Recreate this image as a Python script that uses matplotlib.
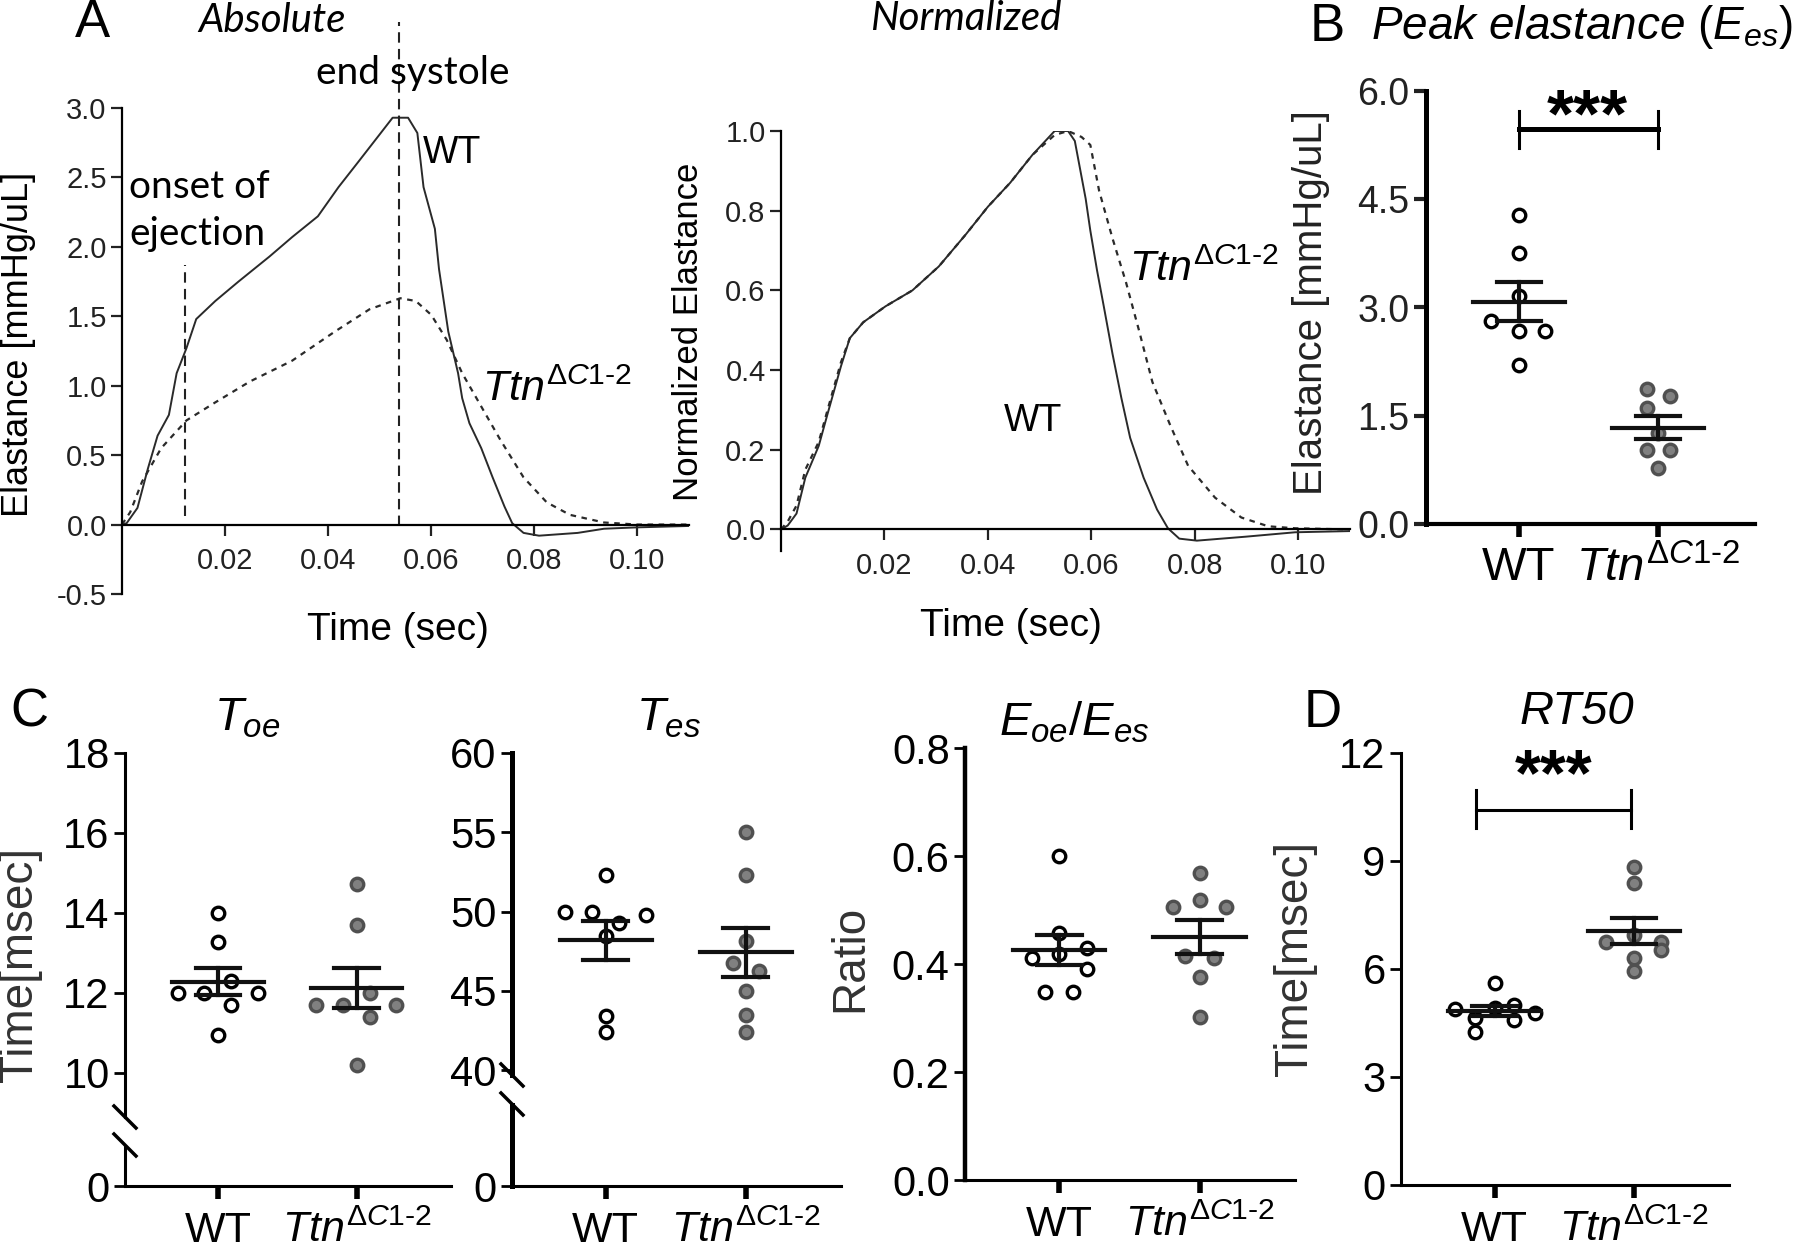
import numpy as np
import matplotlib
matplotlib.use("Agg")
import matplotlib.pyplot as plt
from matplotlib.lines import Line2D

# ============================
# Data
# ============================
# A - absolute elastance traces (time in s, elastance mmHg/uL)
t_wt_abs = [0.0, 0.0009, 0.003, 0.005, 0.0069, 0.0091, 0.0106, 0.0125, 0.0144, 0.0181, 0.0226,
            0.0286, 0.033, 0.038, 0.042, 0.0458, 0.0502, 0.0525, 0.0555, 0.0573, 0.0585, 0.0607,
            0.0615, 0.0633, 0.0652, 0.066, 0.0674, 0.0697, 0.0719, 0.0742, 0.0757, 0.0779, 0.0809,
            0.0884, 0.0935, 0.100, 0.110]
e_wt_abs = [0.0, 0.01, 0.12, 0.40, 0.64, 0.79, 1.09, 1.27, 1.48, 1.61, 1.75,
            1.93, 2.07, 2.22, 2.43, 2.61, 2.82, 2.93, 2.93, 2.82, 2.43, 2.13,
            1.84, 1.39, 1.09, 0.91, 0.73, 0.55, 0.34, 0.13, 0.01, -0.06, -0.08,
            -0.06, -0.03, -0.02, -0.01]
t_ko_abs = [0.0, 0.0016, 0.0039, 0.0076, 0.0125, 0.0181, 0.0248, 0.033, 0.0413, 0.048, 0.054,
            0.057, 0.060, 0.063, 0.066, 0.0697, 0.0734, 0.0779, 0.0824, 0.0869, 0.0935, 0.100, 0.110]
e_ko_abs = [0.0, 0.09, 0.31, 0.55, 0.75, 0.88, 1.03, 1.18, 1.39, 1.55, 1.63,
            1.61, 1.51, 1.33, 1.09, 0.85, 0.61, 0.34, 0.16, 0.07, 0.015, 0.0, 0.0]
t_onset = 0.0123
t_es = 0.0538

# A - normalized elastance traces
t_wt_norm = [0.0, 0.0013, 0.003, 0.0047, 0.0073, 0.009, 0.0116, 0.0133, 0.0159, 0.0202, 0.0254,
             0.0305, 0.0357, 0.040, 0.0443, 0.0486, 0.0529, 0.0555, 0.0568, 0.0589, 0.0598, 0.0611,
             0.0624, 0.0641, 0.0658, 0.0675, 0.0701, 0.0727, 0.0748, 0.077, 0.0804, 0.0899, 0.0994, 0.110]
e_wt_norm = [0.0, 0.01, 0.04, 0.13, 0.21, 0.29, 0.41, 0.48, 0.52, 0.56, 0.60,
             0.66, 0.74, 0.81, 0.87, 0.94, 1.0, 1.0, 0.975, 0.83, 0.75, 0.65,
             0.56, 0.44, 0.33, 0.23, 0.13, 0.05, 0.003, -0.023, -0.028, -0.018, -0.007, -0.004]
t_ko_norm = [0.0, 0.0013, 0.003, 0.0047, 0.0073, 0.009, 0.0116, 0.0133, 0.0159, 0.0202, 0.0254,
             0.0305, 0.0357, 0.040, 0.0443, 0.0486, 0.0529, 0.0555, 0.0581, 0.0598, 0.0615, 0.0641,
             0.0667, 0.0692, 0.0718, 0.0753, 0.0787, 0.0839, 0.089, 0.0942, 0.0994, 0.110]
e_ko_norm = [0.0, 0.02, 0.06, 0.15, 0.22, 0.30, 0.42, 0.48, 0.52, 0.56, 0.60,
             0.66, 0.74, 0.81, 0.87, 0.94, 0.99, 1.0, 0.985, 0.965, 0.85, 0.73,
             0.62, 0.50, 0.37, 0.26, 0.16, 0.08, 0.03, 0.008, 0.003, 0.0]

# B - peak elastance
ees_wt = [4.28, 3.76, 3.16, 2.81, 2.67, 2.67, 2.21]
ees_ko = [1.87, 1.78, 1.61, 1.26, 1.03, 1.03, 0.77]
# C
toe_wt = [14.0, 13.28, 12.0, 12.0, 12.3, 12.0, 11.69, 10.96]
toe_ko = [14.72, 13.7, 11.69, 11.69, 12.0, 11.69, 11.39, 10.19]
tes_wt = [52.3, 50.0, 50.0, 49.3, 49.77, 48.45, 43.4, 42.4]
tes_ko = [55.0, 52.3, 48.16, 46.76, 46.28, 45.0, 43.5, 42.4]
ratio_wt = [0.60, 0.458, 0.412, 0.43, 0.419, 0.39, 0.348, 0.348]
ratio_ko = [0.569, 0.519, 0.506, 0.506, 0.415, 0.412, 0.376, 0.301]
# D
rt50_wt = [5.61, 5.0, 4.92, 4.89, 4.78, 4.64, 4.58, 4.25]
rt50_ko = [8.82, 8.40, 6.95, 6.74, 6.74, 6.52, 6.31, 5.94]

# horizontal scatter of the dots (layout only)
jit_b_wt = [0, 0, 0, -0.2, 0, 0.19, 0]
jit_b_ko = [-0.08, 0.09, -0.08, 0, -0.08, 0.09, 0]
jit_toe_wt = [0, 0, -0.29, -0.1, 0.095, 0.29, 0.095, 0]
jit_toe_ko = [0, 0, -0.29, -0.1, 0.095, 0.28, 0.095, 0]
jit_tes_wt = [0, -0.29, -0.1, 0.095, 0.29, 0, 0, 0]
jit_tes_ko = [0, 0, 0, -0.09, 0.095, 0, 0, 0]
jit_r_wt = [0, 0, -0.19, 0.2, 0, 0.2, -0.1, 0.1]
jit_r_ko = [0, 0, -0.19, 0.19, -0.1, 0.1, 0, 0]
jit_d_wt = [0, 0.14, 0, -0.28, 0.29, -0.14, 0.14, -0.14]
jit_d_ko = [0, 0, 0, -0.2, 0.19, 0.19, 0, 0]

ttn = r"$\mathit{Ttn}^{\mathit{\Delta C1}\text{-}\mathit{2}}$"
groups = ["WT", ttn]

# ============================
# Style
# ============================
plt.rcParams["font.family"] = ["Liberation Sans", "DejaVu Sans"]
plt.rcParams["mathtext.fontset"] = "custom"
plt.rcParams["mathtext.it"] = "Liberation Sans:italic"
plt.rcParams["mathtext.rm"] = "Liberation Sans"
plt.rcParams["mathtext.bf"] = "Liberation Sans:bold"
NARROW = ["Liberation Sans Narrow", "Liberation Sans", "DejaVu Sans"]
CAL = ["Lato", "Liberation Sans", "DejaVu Sans"]

W, H = 1800, 1253
fig = plt.figure(figsize=(W / 100, H / 100), dpi=100)


def add_ax(l, t, r, b):
    return fig.add_axes([l / W, 1 - b / H, (r - l) / W, (b - t) / H])


def ftext(x, y, s, **kw):
    return fig.text(x / W, 1 - y / H, s, **kw)


def slash(xc, yc, lw=2.5):
    fig.add_artist(Line2D([(xc - 11) / W, (xc + 11) / W], [1 - (yc - 11) / H, 1 - (yc + 11) / H],
                          transform=fig.transFigure, color="black", lw=lw))


def clean(ax):
    ax.spines["top"].set_visible(False)
    ax.spines["right"].set_visible(False)
    ax.patch.set_alpha(0)


def dots(ax, wt, ko, jw, jk, ms=9):
    ax.plot(0 + np.array(jw), wt, "o", ms=ms, mfc="white", mec="black", mew=2.4, zorder=3, clip_on=False)
    ax.plot(1 + np.array(jk), ko, "o", ms=ms, mfc="#808080", mec="#505050", mew=2.4, zorder=3, clip_on=False)
    for i, v in enumerate([wt, ko]):
        m = np.mean(v)
        s = np.std(v, ddof=1) / np.sqrt(len(v))
        ax.plot([i - 0.33, i + 0.33], [m, m], color="#111", lw=3, zorder=4)
        ax.plot([i - 0.16, i + 0.16], [m + s, m + s], color="#111", lw=3, zorder=4)
        ax.plot([i - 0.16, i + 0.16], [m - s, m - s], color="#111", lw=3, zorder=4)
        ax.plot([i, i], [m - s, m + s], color="#111", lw=3, zorder=4)


def cat_axis(ax, spine_w=2.2, ylw=None):
    clean(ax)
    ax.set_xlim(-0.67, 1.68)
    ax.set_xticks([0, 1])
    ax.spines["left"].set_linewidth(ylw or spine_w)
    ax.spines["bottom"].set_linewidth(spine_w)
    ax.tick_params(axis="x", length=9, width=4, pad=9)
    ax.tick_params(axis="y", length=8, width=2, pad=3)


def narrow_y(ax, size=30):
    ax.tick_params(axis="y", labelsize=size)
    for lab in ax.get_yticklabels():
        lab.set_family(NARROW)


# ============================
# A - Absolute
# ============================
ax = add_ax(122, 108, 689, 594)
clean(ax)
ax.plot(t_wt_abs, e_wt_abs, color="#2a2a2a", lw=1.4)
ax.plot(t_ko_abs, e_ko_abs, color="#2a2a2a", lw=1.6, ls=(0, (2.5, 2.5)))
ax.plot([t_onset, t_onset], [0.06, 1.87], color="#222", lw=1.5, ls=(0, (5, 3)))
ax.plot([t_es, t_es], [-0.01, 3.62], color="#222", lw=1.5, ls=(0, (5, 3)), clip_on=False)
ax.set_xlim(0, 0.11)
ax.set_ylim(-0.5, 3.0)
ax.spines["bottom"].set_position(("data", 0))
ax.spines["left"].set_linewidth(1.6)
ax.spines["bottom"].set_linewidth(1.6)
ax.set_xticks([0.02, 0.04, 0.06, 0.08, 0.10])
ax.set_xticklabels(["0.02", "0.04", "0.06", "0.08", "0.10"])
ax.set_yticks(np.arange(-0.5, 3.01, 0.5))
ax.set_yticklabels(["%.1f" % v for v in np.arange(-0.5, 3.01, 0.5)])
ax.tick_params(labelsize=21, width=1.6, length=8, colors="#222", pad=8)
ax.tick_params(axis="y", pad=3)

ftext(92, 23, "A", fontsize=38, ha="center", va="center")
ftext(272, 21, "Absolute", fontsize=29, style="italic", family=CAL, ha="center", va="center")
ftext(413, 73, "end systole", fontsize=28, family=CAL, ha="center", va="center")
ftext(199, 187, "onset of", fontsize=28, family=CAL, ha="center", va="center")
ftext(197, 234, "ejection", fontsize=28, family=CAL, ha="center", va="center")
ftext(452, 153, "WT", fontsize=27, ha="center", va="center")
ftext(482, 390, ttn, fontsize=31, ha="left", va="center")
ftext(19, 344, "Elastance [mmHg/uL]", fontsize=26, rotation=90, ha="center", va="center")
ftext(398, 630, "Time (sec)", fontsize=28, ha="center", va="center")

# ============================
# A - Normalized
# ============================
ax = add_ax(781, 131, 1350, 551)
clean(ax)
ax.plot(t_wt_norm, e_wt_norm, color="#2a2a2a", lw=1.4)
ax.plot(t_ko_norm, e_ko_norm, color="#2a2a2a", lw=1.6, ls=(0, (2.5, 2.5)))
ax.set_xlim(0, 0.11)
ax.set_ylim(-0.054, 1.0)
ax.spines["bottom"].set_position(("data", 0))
ax.spines["left"].set_linewidth(1.6)
ax.spines["bottom"].set_linewidth(1.6)
ax.set_xticks([0.02, 0.04, 0.06, 0.08, 0.10])
ax.set_xticklabels(["0.02", "0.04", "0.06", "0.08", "0.10"])
ax.set_yticks(np.arange(0, 1.01, 0.2))
ax.set_yticklabels(["%.1f" % v for v in np.arange(0, 1.01, 0.2)])
ax.tick_params(labelsize=21, width=1.6, length=8, colors="#222", pad=8)
ax.tick_params(axis="y", pad=3)

ftext(966, 19, "Normalized", fontsize=29, style="italic", family=CAL, ha="center", va="center")
ftext(1033, 421, "WT", fontsize=27, ha="center", va="center")
ftext(1129, 270, ttn, fontsize=31, ha="left", va="center")
ftext(689, 332, "Normalized Elastance", fontsize=25, rotation=90, ha="center", va="center")
ftext(1011, 626, "Time (sec)", fontsize=28, ha="center", va="center")

# ============================
# B - Peak elastance
# ============================
ax = add_ax(1426, 91, 1755, 524)
cat_axis(ax, spine_w=3.0, ylw=3.6)
dots(ax, ees_wt, ees_ko, jit_b_wt, jit_b_ko, ms=9)
ax.set_xlim(-0.67, 1.70)
ax.set_ylim(0, 6.0)
ax.set_yticks([0, 1.5, 3.0, 4.5, 6.0])
ax.set_yticklabels(["0.0", "1.5", "3.0", "4.5", "6.0"])
ax.set_xticklabels(groups)
ax.tick_params(axis="y", labelsize=27, colors="#222", width=3, length=9)
ax.tick_params(axis="x", labelsize=34, pad=7)
ax.plot([0, 1], [5.47, 5.47], color="black", lw=3.6)
ax.plot([0, 0], [5.21, 5.72], color="black", lw=2.2)
ax.plot([1, 1], [5.21, 5.72], color="black", lw=2.2)
ax.text(0.49, 5.62, "***", fontsize=50, fontweight="bold", ha="center", va="center")

ftext(1327, 27, "B", fontsize=38, ha="center", va="center")
ftext(1371, 27, r"$\mathit{Peak\ elastance\ (E_{es})}$", fontsize=33, ha="left", va="center")
ftext(1311, 303, "Elastance [mmHg/uL]", fontsize=29, rotation=90, ha="center", va="center", color="#222")

# ============================
# C - T_oe (broken axis)
# ============================
ax_t = add_ax(125, 753, 451, 1117)
ax_b = add_ax(125, 1147, 451, 1186)
for a in (ax_t, ax_b):
    cat_axis(a)
ax_t.spines["bottom"].set_visible(False)
ax_t.tick_params(axis="x", bottom=False, labelbottom=False)
dots(ax_t, toe_wt, toe_ko, jit_toe_wt, jit_toe_ko)
ax_t.set_ylim(8.9, 18)
ax_t.set_yticks([10, 12, 14, 16, 18])
ax_b.set_ylim(0, 0.98)
ax_b.set_yticks([0])
ax_b.set_xticklabels(groups)
narrow_y(ax_t)
narrow_y(ax_b)
ax_b.tick_params(axis="x", labelsize=31)
slash(125, 1117)
slash(125, 1145)

ftext(29, 713, "C", fontsize=38, ha="center", va="center")
ftext(247, 719, r"$T_{oe}$", fontsize=34, ha="center", va="center")
ftext(20, 965, "Time[msec]", fontsize=33, rotation=90, ha="center", va="center", color="#333")

# ============================
# C - T_es (broken axis)
# ============================
ax_t = add_ax(512, 753, 841, 1075)
ax_b = add_ax(512, 1105, 841, 1186)
for a in (ax_t, ax_b):
    cat_axis(a, ylw=3.6)
ax_t.spines["bottom"].set_visible(False)
ax_t.tick_params(axis="x", bottom=False, labelbottom=False)
dots(ax_t, tes_wt, tes_ko, jit_tes_wt, jit_tes_ko)
ax_t.set_ylim(39.7, 60)
ax_t.set_yticks([40, 45, 50, 55, 60])
ax_b.set_ylim(0, 5.1)
ax_b.set_yticks([0])
ax_b.set_xticklabels(groups)
narrow_y(ax_t)
narrow_y(ax_b)
ax_b.tick_params(axis="x", labelsize=31)
slash(512, 1075)
slash(512, 1104)

ftext(669, 719, r"$T_{es}$", fontsize=34, ha="center", va="center")

# ============================
# C - E_oe / E_es
# ============================
ax = add_ax(965, 748, 1295, 1180)
cat_axis(ax, ylw=3.2)
dots(ax, ratio_wt, ratio_ko, jit_r_wt, jit_r_ko)
ax.set_ylim(0, 0.8)
ax.set_yticks([0, 0.2, 0.4, 0.6, 0.8])
ax.set_yticklabels(["0.0", "0.2", "0.4", "0.6", "0.8"])
ax.set_xticklabels(groups)
narrow_y(ax)
ax.tick_params(axis="x", labelsize=31)

ftext(1074, 723, r"$E_{oe}/E_{es}$", fontsize=34, ha="center", va="center")
ftext(850, 958, "Ratio", fontsize=33, rotation=90, ha="center", va="center", color="#333")

# ============================
# D - RT50
# ============================
ax = add_ax(1401, 753, 1729, 1185)
cat_axis(ax)
dots(ax, rt50_wt, rt50_ko, jit_d_wt, jit_d_ko)
ax.set_ylim(0, 12)
ax.set_yticks([0, 3, 6, 9, 12])
ax.set_xticklabels(groups)
narrow_y(ax)
ax.tick_params(axis="x", labelsize=31)
ax.plot([-0.13, 0.98], [10.42, 10.42], color="black", lw=2.2)
ax.plot([-0.13, -0.13], [9.92, 10.98], color="black", lw=2.2)
ax.plot([0.98, 0.98], [9.92, 10.98], color="black", lw=2.2)
ax.text(0.42, 11.3, "***", fontsize=48, fontweight="bold", ha="center", va="center")

ftext(1323, 713, "D", fontsize=38, ha="center", va="center")
ftext(1577, 712, "RT50", fontsize=34, style="italic", ha="center", va="center")
ftext(1295, 958, "Time[msec]", fontsize=33, rotation=90, ha="center", va="center", color="#333")

fig.savefig("out.png", dpi=100)
